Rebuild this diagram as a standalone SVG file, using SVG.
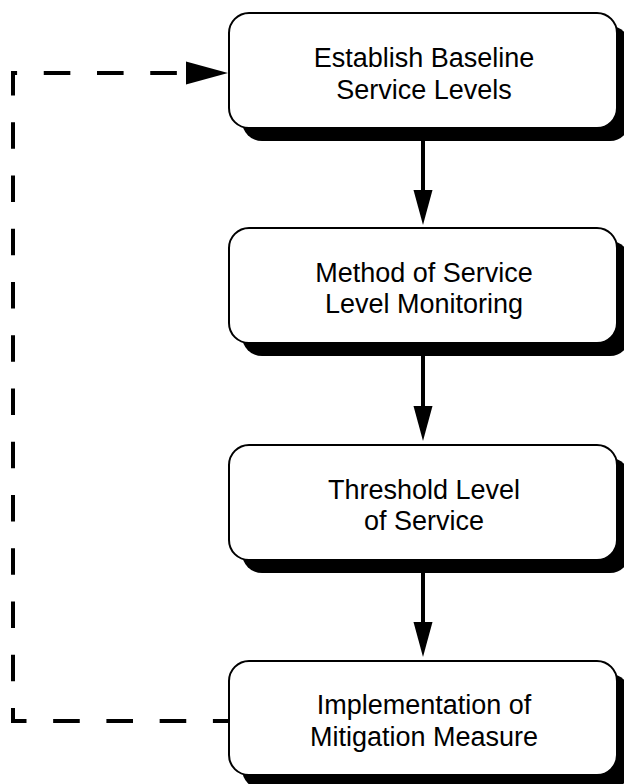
<svg xmlns="http://www.w3.org/2000/svg" width="624" height="784" viewBox="0 0 624 784">
<defs>
<style>
.shadow{fill:#000;stroke:none}
.box{fill:#fff;stroke:#000;stroke-width:2}
.lbl{font-family:"Liberation Sans",Arial,Helvetica,sans-serif;font-size:27px;fill:#000;text-anchor:middle}
.flow{stroke:#000;stroke-width:4;fill:none}
.dash{stroke:#000;stroke-width:4;fill:none;stroke-dasharray:26.6 26.65;stroke-dashoffset:10.5}
.head{fill:#000;stroke:none}
</style>
</defs>
<rect width="624" height="784" fill="#fff"/>
<g id="connectors">
<line class="flow" x1="423" y1="128" x2="423" y2="195"/>
<polygon class="head" points="413.5,190 432.5,190 423,225"/>
<line class="flow" x1="423" y1="343" x2="423" y2="411"/>
<polygon class="head" points="413.5,406 432.5,406 423,441"/>
<line class="flow" x1="423" y1="559" x2="423" y2="627"/>
<polygon class="head" points="413.5,622 432.5,622 423,657"/>
<path class="dash" d="M229,721 H13 V73 H190"/>
<polygon class="head" points="186,61.5 186,84.5 228,73"/>
</g>
<g id="n1">
<rect class="shadow" x="242" y="26" width="388" height="115" rx="20"/>
<rect class="box" x="229" y="13" width="388" height="115" rx="20"/>
<text class="lbl" x="424" y="67">Establish Baseline</text>
<text class="lbl" x="424" y="99">Service Levels</text>
</g>
<g id="n2">
<rect class="shadow" x="242" y="241" width="388" height="115" rx="20"/>
<rect class="box" x="229" y="228" width="388" height="115" rx="20"/>
<text class="lbl" x="424" y="282">Method of Service</text>
<text class="lbl" x="424" y="313">Level Monitoring</text>
</g>
<g id="n3">
<rect class="shadow" x="242" y="458" width="388" height="115" rx="20"/>
<rect class="box" x="229" y="445" width="388" height="115" rx="20"/>
<text class="lbl" x="424" y="499">Threshold Level</text>
<text class="lbl" x="424" y="530">of Service</text>
</g>
<g id="n4">
<rect class="shadow" x="242" y="674" width="388" height="115" rx="20"/>
<rect class="box" x="229" y="661" width="388" height="114" rx="20"/>
<text class="lbl" x="424" y="714">Implementation of</text>
<text class="lbl" x="424" y="746">Mitigation Measure</text>
</g>
</svg>
